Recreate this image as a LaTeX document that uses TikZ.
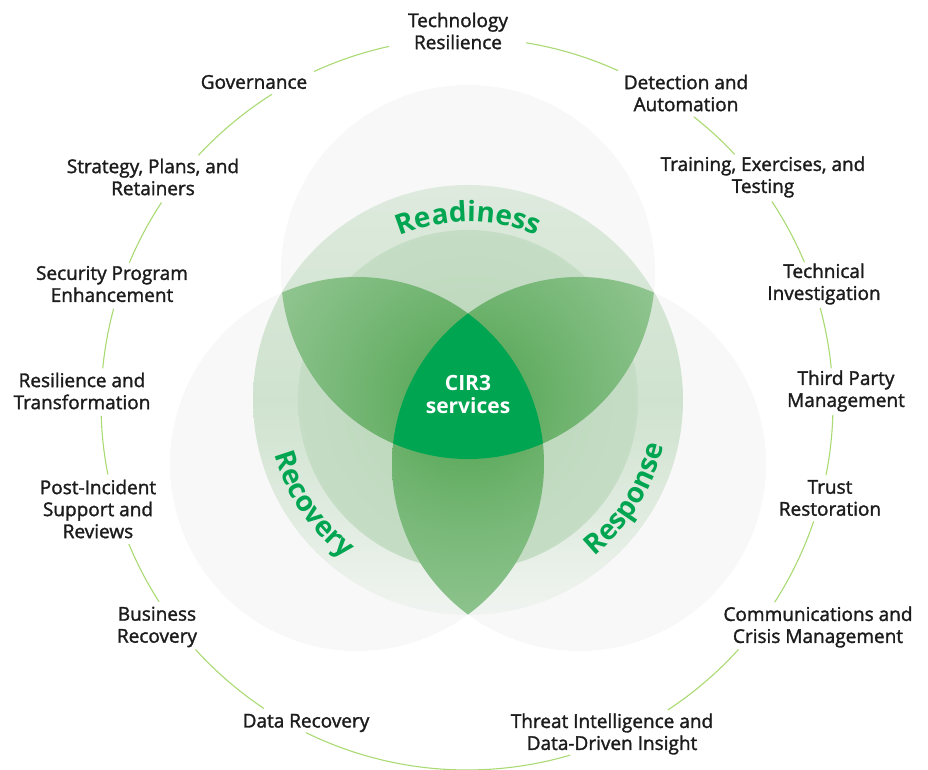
\documentclass[tikz,border=0pt]{standalone}
\usepackage{fontspec}
\setmainfont{Open Sans}
\newfontfamily\lblfont{Open Sans}[FakeBold=1.6]
\usepackage{tikz}
\usetikzlibrary{decorations.text}

\definecolor{cirgreen}{HTML}{00A551}
\definecolor{tint}{HTML}{419B41}
\definecolor{arcgreen}{HTML}{A9DA73}
\definecolor{lblgrey}{HTML}{1C1C1C}

\newcommand{\vennfont}{\bfseries\fontsize{28}{30}\selectfont}

\pgfdeclareradialshading{petalfade}{\pgfpoint{0bp}{0bp}}{color(0bp)=(tint!92); color(16bp)=(tint!70); color(30bp)=(tint!52); color(40bp)=(tint!34); color(50bp)=(tint!21)}
\pgfdeclareradialshading{lensfade}{\pgfpoint{0bp}{0bp}}{color(0bp)=(tint!92); color(16bp)=(tint!70); color(34bp)=(tint!50); color(50bp)=(tint!36)}
\pgfdeclareradialshading{corefade}{\pgfpoint{0bp}{0bp}}{color(0bp)=(tint!34); color(50bp)=(tint!21)}

\begin{document}
\begin{tikzpicture}[x=1pt,y=1pt,
	lbl/.style={align=center,font=\lblfont\fontsize{19}{22}\selectfont,text=lblgrey,inner sep=0pt},
	outring/.style={arcgreen,line width=1.1pt},
	venn/.style={fill=black,fill opacity=0.028}]

\useasboundingbox (0,0) rectangle (928,770);

%% Centres
\coordinate (C) at (468,370);
\coordinate (T) at (468,498);
\coordinate (L) at (357,306);
\coordinate (R) at (579,306);
\coordinate (O) at (467,366);

%% Green ring and core
\shade[top color=tint!14,bottom color=tint!4,middle color=tint!22] (C) circle[radius=215];
\shade[shading=corefade] (C) circle[radius=170];

%% Grey sets
\fill[venn] (T) circle[radius=187];
\fill[venn] (L) circle[radius=187];
\fill[venn] (R) circle[radius=187];

%% Petals
\begin{scope}
	\clip (T) circle[radius=187];
	\clip (L) circle[radius=187];
	\shade[shading=petalfade] (C) circle[radius=215];
\end{scope}
\begin{scope}
	\clip (T) circle[radius=187];
	\clip (R) circle[radius=187];
	\shade[shading=petalfade] (C) circle[radius=215];
\end{scope}
\begin{scope}
	\clip (L) circle[radius=187];
	\clip (R) circle[radius=187];
	\shade[shading=lensfade] (C) circle[radius=215];
\end{scope}

%% Core
\begin{scope}
	\clip (T) circle[radius=187];
	\clip (L) circle[radius=187];
	\fill[cirgreen] (R) circle[radius=187];
\end{scope}
\node[text=white,align=center,font=\bfseries\fontsize{21}{23}\selectfont] (cir) at (468,375) {CIR3\\services};

%% Set names
\path[decorate,decoration={text along path,text align=center,text color=cirgreen,
	text={|\vennfont|Readiness}}] (C) ++(132:178) arc[start angle=132,end angle=48,radius=178];
\path[decorate,decoration={text along path,text align=center,text color=cirgreen,
	text={|\vennfont|Recovery}}] (C) ++(184:201) arc[start angle=184,end angle=244,radius=201];
\path[decorate,decoration={text along path,text align=center,text color=cirgreen,
	text={|\vennfont|Response}}] (C) ++(-62:201) arc[start angle=-62,end angle=-2,radius=201];

%% Services
\node[lbl] (tech) at (458,739) {Technology\\Resilience};
\node[lbl] (detect) at (686,677) {Detection and\\Automation};
\node[lbl] (train) at (763,593) {Training, Exercises, and\\Testing};
\node[lbl] (techinv) at (824,486) {Technical\\Investigation};
\node[lbl] (third) at (846,379) {Third Party\\Management};
\node[lbl] (trust) at (830,272) {Trust\\Restoration};
\node[lbl] (comms) at (818,143) {Communications and\\Crisis Management};
\node[lbl] (threat) at (612,36) {Threat Intelligence and\\Data-Driven Insight};
\node[lbl] (datarec) at (306,47) {Data Recovery};
\node[lbl] (busrec) at (157,143) {Business\\Recovery};
\node[lbl] (postinc) at (98,261) {Post-Incident\\Support and\\Reviews};
\node[lbl] (resil) at (82,379) {Resilience and\\Transformation};
\node[lbl] (secprog) at (112,486) {Security Program\\Enhancement};
\node[lbl] (strat) at (153,593) {Strategy, Plans, and\\Retainers};
\node[lbl] (gov) at (254,688) {Governance};

%% Ring of services
\draw[outring] (O) ++(80.7:366) arc[start angle=80.7,end angle=65.6,radius=366];
\draw[outring] (O) ++(51.7:366) arc[start angle=51.7,end angle=43,radius=366];
\draw[outring] (O) ++(33.6:366) arc[start angle=33.6,end angle=22.8,radius=366];
\draw[outring] (O) ++(15.2:366) arc[start angle=15.2,end angle=5.6,radius=366];
\draw[outring] (O) ++(-1.7:366) arc[start angle=-1.7,end angle=-11.2,radius=366];
\draw[outring] (O) ++(-18.7:366) arc[start angle=-18.7,end angle=-32.8,radius=366];
\draw[outring] (O) ++(-42.1:366) arc[start angle=-42.1,end angle=-56.7,radius=366];
\draw[outring] (O) ++(-73.6:366) arc[start angle=-73.6,end angle=-116.1,radius=366];
\draw[outring] (O) ++(-123.7:366) arc[start angle=-123.7,end angle=-137.9,radius=366];
\draw[outring] (O) ++(-147.3:366) arc[start angle=-147.3,end angle=-157.5,radius=366];
\draw[outring] (O) ++(-168.9:366) arc[start angle=-168.9,end angle=-178.1,radius=366];
\draw[outring] (O) ++(174.4:366) arc[start angle=174.4,end angle=164.9,radius=366];
\draw[outring] (O) ++(157.3:366) arc[start angle=157.3,end angle=146.6,radius=366];
\draw[outring] (O) ++(137.2:366) arc[start angle=137.2,end angle=122.2,radius=366];
\draw[outring] (O) ++(114.7:366) arc[start angle=114.7,end angle=102.3,radius=366];

\end{tikzpicture}
\end{document}
